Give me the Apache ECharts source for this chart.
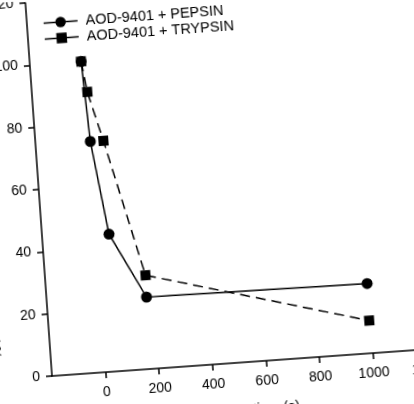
<!DOCTYPE html>
<html>
<head>
<meta charset="utf-8">
<script src="https://cdn.jsdelivr.net/npm/echarts@6/dist/echarts.min.js"></script>
<style>
  html, body { margin: 0; padding: 0; width: 414px; height: 404px; overflow: hidden; background: #fff; }
  /* the scanned figure is tilted a little, so the chart box is turned round the axis origin */
  #chart {
    position: absolute; left: 0; top: 0;
    width: 460px; height: 440px;
    transform-origin: 52px 376px;
    transform: rotate(-4.08deg);
    background: #fff;
  }
</style>
</head>
<body>
<div id="chart"></div>
<script>
const seriesNames = ['AOD-9401 + PEPSIN', 'AOD-9401 + TRYPSIN']

// values
const pepsinX = [-8, 5, 50, 173, 998]
const pepsinY = [100, 74.2, 44.1, 23.1, 22.4]
const trypsinX = [-8, 7, 54, 175, 996]
const trypsinY = [100, 90.1, 74.1, 30.1, 10.5]

const xTicks = [0, 200, 400, 600, 800, 1000, 1200]
const yTicks = [0, 20, 40, 60, 80, 100, 120]

const FONT = 'Liberation Sans, Arial, sans-serif'

const chart = echarts.init(document.getElementById('chart'))

const pairs = (xs, ys) => xs.map((x, i) => [x, ys[i]])

const option = {
  animation: false,
  textStyle: { fontFamily: FONT, color: '#000' },
  grid: { left: 52, right: 33, top: 2, bottom: 64, containLabel: false, outerBoundsMode: 'none' },
  legend: {
    orient: 'vertical',
    left: 68,
    top: 16,
    padding: 0,
    itemWidth: 34,
    itemHeight: 13,
    itemGap: 1,
    lineStyle: { type: 'solid', width: 1.5 },
    textStyle: { fontSize: 14.5, color: '#000', fontFamily: FONT, padding: [0, 0, 0, 3] },
    data: seriesNames
  },
  xAxis: {
    type: 'value',
    min: -200,
    max: 1200,
    name: 'Incubation time (s)',
    nameLocation: 'middle',
    nameGap: 41,
    nameTextStyle: { fontSize: 14, color: '#000', fontFamily: FONT },
    splitLine: { show: false },
    axisLine: { onZero: false, lineStyle: { color: '#000', width: 1.5 } },
    axisTick: { length: 6, lineStyle: { color: '#000', width: 1.5 }, customValues: xTicks },
    axisLabel: { fontSize: 14, color: '#000', margin: 13, customValues: xTicks, formatter: v => String(v) }
  },
  yAxis: {
    type: 'value',
    min: 0,
    max: 120,
    name: '% AOD-9401 REMAINING',
    nameLocation: 'middle',
    nameGap: 42,
    nameTextStyle: { fontSize: 14, color: '#000', fontFamily: FONT, align: 'right' },
    splitLine: { show: false },
    axisLine: { onZero: false, lineStyle: { color: '#000', width: 1.5 } },
    axisTick: { length: 6, lineStyle: { color: '#000', width: 1.5 }, customValues: yTicks },
    axisLabel: { fontSize: 14, color: '#000', margin: 12, customValues: yTicks, formatter: v => String(v) }
  },
  series: [
    {
      name: seriesNames[0],
      type: 'line',
      data: pairs(pepsinX, pepsinY),
      symbol: 'circle',
      symbolSize: 11,
      itemStyle: { color: '#000' },
      lineStyle: { color: '#000', width: 1.5 },
      z: 3
    },
    {
      name: seriesNames[1],
      type: 'line',
      data: pairs(trypsinX, trypsinY),
      symbol: 'rect',
      symbolSize: 10,
      itemStyle: { color: '#000' },
      lineStyle: { color: '#000', width: 1.5, type: [10, 6] },
      z: 2
    }
  ]
}

chart.setOption(option)
</script>
</body>
</html>
